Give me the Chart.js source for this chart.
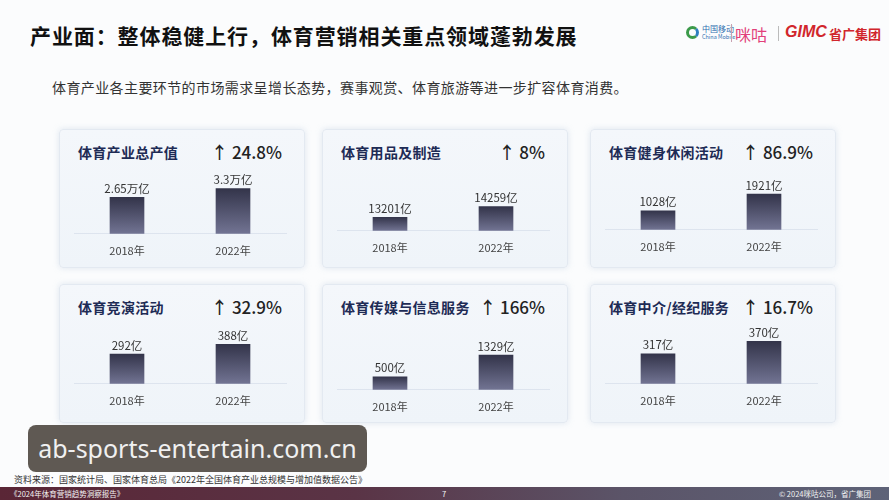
<!DOCTYPE html>
<html>
<head>
<meta charset="utf-8">
<script src="https://cdn.jsdelivr.net/npm/chart.js@4.4.1/dist/chart.umd.min.js"></script>
<style>
  * { margin: 0; padding: 0; box-sizing: border-box; }
  body {
    width: 889px; height: 500px; overflow: hidden; position: relative;
    background: #fbfcfd;
    font-family: "Noto Sans CJK SC", "Noto Sans", sans-serif;
  }
  .abs { position: absolute; white-space: nowrap; }
  #pageTitle { left: 30px; top: 20px; font-size: 21px; font-weight: 700; letter-spacing: 0.9px; color: #111; }
  #subTitle { left: 52px; top: 77px; font-size: 14px; letter-spacing: 0.4px; color: #333; }
  .card {
    position: absolute; width: 246px; height: 139px;
    background: linear-gradient(180deg, #f4f7fb 0%, #eff4f9 100%);
    border: 1px solid #e3e9f1; border-radius: 4px;
    box-shadow: 0 0 6px rgba(170, 188, 212, 0.35);
  }
  .card .title { position: absolute; left: 18px; top: 12px; font-size: 14px; letter-spacing: 0.3px; font-weight: 700; color: #1e2b55; white-space: nowrap; }
  .card .growth { position: absolute; right: 22px; top: 9px; font-size: 17px; font-weight: 500; color: #222; white-space: nowrap; }
  .card canvas { position: absolute; left: 10px; }
  #source { left: 14px; top: 473px; font-size: 9px; color: #333; }
  #bottomBar {
    position: absolute; left: 0; top: 487px; width: 889px; height: 13px;
    background: linear-gradient(90deg, #5a2636 0%, #5a3446 40%, #5b5468 70%, #5e6378 100%);
    color: #f2f2f2; font-size: 7.5px;
  }
  #bottomBar span { position: absolute; top: 1px; white-space: nowrap; }
  #watermark {
    left: 28px; top: 425px; width: 339px; height: 47px; border-radius: 8px;
    background: #5f5953; color: #f0f0f0; font-family: "Noto Sans", sans-serif;
    font-size: 25px; line-height: 47px; text-align: center;
  }
  #logo { left: 686px; top: 21px; height: 24px; }
  #logo span { position: absolute; white-space: nowrap; }
</style>
</head>
<body>

<div id="pageTitle" class="abs">产业面：整体稳健上行，体育营销相关重点领域蓬勃发展</div>

<div id="logo" class="abs">
  <span style="left:0;top:5px;width:13px;height:13px;border-radius:50%;border:3px solid #3b9a4a;border-right-color:#2f7fc0;"></span>
  <span style="left:16px;top:2px;font-size:8px;color:#2f6fb0;">中国移动</span>
  <span style="left:16px;top:12px;font-size:5.5px;color:#2f6fb0;">China Mobile</span>
  <span style="left:45px;top:3px;width:1px;height:18px;background:#c8a0b0;"></span>
  <span style="left:49px;top:1px;font-size:16px;color:#e2407a;">咪咕</span>
  <span style="left:92px;top:5px;width:1px;height:15px;background:#bbb;"></span>
  <span style="left:99px;top:2px;font-size:16px;font-weight:700;font-style:italic;color:#d1262c;font-family:'Liberation Sans',sans-serif;">GIMC</span>
  <span style="left:143px;top:3px;font-size:13px;font-weight:700;color:#d1262c;">省广集团</span>
</div>

<div id="subTitle" class="abs">体育产业各主要环节的市场需求呈增长态势，赛事观赏、体育旅游等进一步扩容体育消费。</div>

<div id="cards"></div>

<div id="watermark" class="abs">ab-sports-entertain.com.cn</div>
<div id="source" class="abs">资料来源：国家统计局、国家体育总局《2022年全国体育产业总规模与增加值数据公告》</div>

<div id="bottomBar">
  <span style="left:10px;">《2024年体育营销趋势洞察报告》</span>
  <span style="left:442px;">7</span>
  <span style="right:18px;">© 2024咪咕公司，省广集团</span>
</div>

<script>
// Data
const years = ["2018年", "2022年"];
const panelTitles = ["体育产业总产值", "体育用品及制造", "体育健身休闲活动", "体育竞演活动", "体育传媒与信息服务", "体育中介/经纪服务"];
const growth = ["24.8%", "8%", "86.9%", "32.9%", "166%", "16.7%"];
const values2018 = [2.65, 13201, 1028, 292, 500, 317];
const values2022 = [3.3, 14259, 1921, 388, 1329, 370];
const units = ["万亿", "亿", "亿", "亿", "亿", "亿"];
const axisMin = [0, 11850, 0, 0, 0, 190];
const axisMax = [4.28, 17720, 3170, 577, 2250, 439];

// Card layout
const cardLeft = [59, 322, 590, 59, 322, 590];
const cardTop = [129, 129, 129, 284, 284, 284];
const baselineY = [106, 103, 102, 101, 107, 101]; // baseline inside each card

const cardsElem = document.getElementById("cards");

// draws value labels above the bars
const valueLabelPlugin = {
  id: "valueLabels",
  afterDatasetsDraw(chart) {
    const c = chart.ctx;
    const unit = chart.options.plugins.valueLabels.unit;
    const meta = chart.getDatasetMeta(0);
    c.save();
    c.font = '11.5px "Noto Sans CJK SC", sans-serif';
    c.fillStyle = "#333";
    c.textAlign = "center";
    c.textBaseline = "bottom";
    meta.data.forEach((bar, i) => {
      const v = chart.data.datasets[0].data[i];
      c.fillText(v + unit, bar.x, bar.y - 3);
    });
    c.restore();
  },
};

function barGradient(ctx) {
  const chart = ctx.chart;
  const area = chart.chartArea;
  if (!area || ctx.raw === undefined) return "#4a4c66";
  const top = chart.scales.y.getPixelForValue(ctx.raw);
  const g = chart.ctx.createLinearGradient(0, top, 0, area.bottom);
  g.addColorStop(0, "#33344a");
  g.addColorStop(1, "#727493");
  return g;
}

for (let i = 0; i < panelTitles.length; i++) {
  const card = document.createElement("div");
  card.className = "card";
  card.style.left = cardLeft[i] + "px";
  card.style.top = cardTop[i] + "px";
  card.innerHTML =
    `<div class="title">${panelTitles[i]}</div>` +
    `<div class="growth">↑ ${growth[i]}</div>` +
    `<canvas width="225" height="102"></canvas>`;
  cardsElem.appendChild(card);

  const canvas = card.querySelector("canvas");
  canvas.style.top = baselineY[i] - 67 + "px";
  new Chart(canvas.getContext("2d"), {
    type: "bar",
    data: {
      labels: years,
      datasets: [
        {
          data: [values2018[i], values2022[i]],
          backgroundColor: barGradient,
          barThickness: 34,
        },
      ],
    },
    options: {
      responsive: false,
      animation: false,
      layout: { padding: { left: 4, right: 9, top: 6, bottom: 4 } },
      plugins: {
        legend: { display: false },
        tooltip: { enabled: false },
        valueLabels: { unit: units[i] },
      },
      scales: {
        y: { display: false, min: axisMin[i], max: axisMax[i] },
        x: {
          grid: { display: false, drawTicks: false },
          border: { display: true, color: "#dde4ee", width: 1 },
          ticks: {
            color: "#444",
            padding: 10,
            font: { size: 11, family: '"Noto Sans CJK SC", sans-serif' },
          },
        },
      },
    },
    plugins: [valueLabelPlugin],
  });
}
</script>
</body>
</html>
